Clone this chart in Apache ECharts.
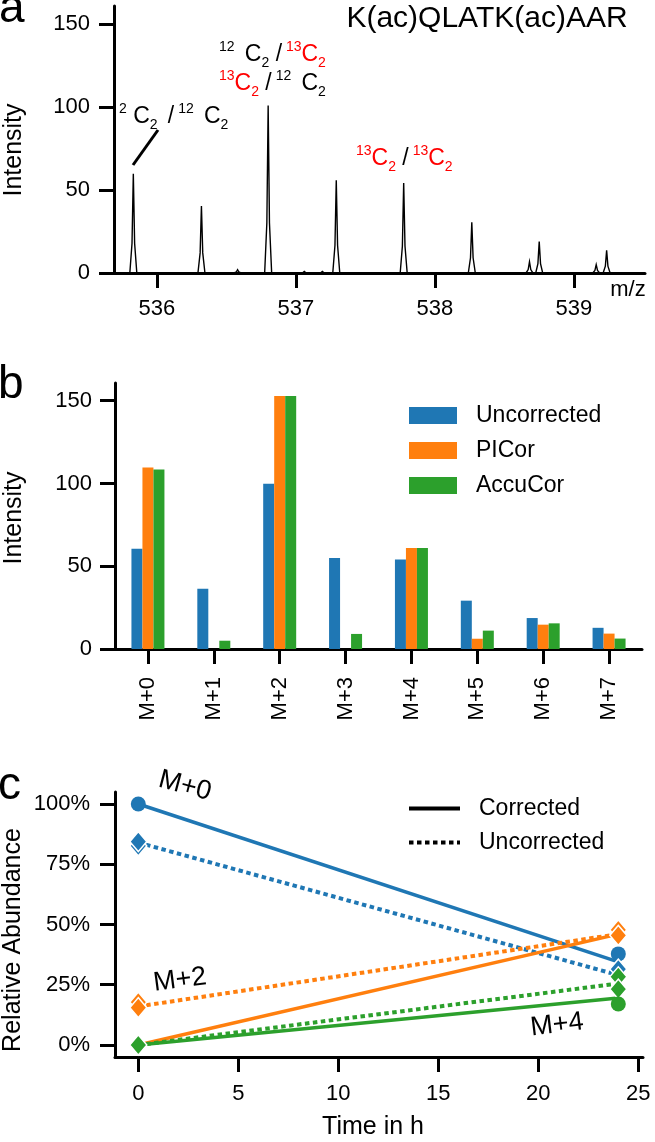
<!DOCTYPE html>
<html><head><meta charset="utf-8">
<script src="https://cdn.jsdelivr.net/npm/echarts@6/dist/echarts.min.js"></script>
<style>html,body{margin:0;padding:0;background:#fff}#c{width:655px;height:1142px}</style>
</head><body><div id="c"></div>
<script>
// ---------- Panel a: mass spectrum (peak centroids) ----------
const peakMz        = [535.83, 536.32, 536.58, 536.80, 537.06, 537.19, 537.29, 537.775, 538.265, 538.68, 538.75, 539.16, 539.235];
const peakIntensity = [59.8,   40.4,   2.0,    100.8,  1.0,    1.0,    55.8,   54.2,    30.5,    6.8,    19.0,   5.0,    13.6];
const mzTicks = [536, 537, 538, 539];
const intensityTicks = [0, 50, 100, 150];

// ---------- Panel b: isotopologue intensities ----------
const isotopologues = ['M+0', 'M+1', 'M+2', 'M+3', 'M+4', 'M+5', 'M+6', 'M+7'];
const uncorrected = [60.6, 36.4, 99.9, 55.0, 54.0, 29.2, 18.7, 12.8];
const picor       = [109.7, 0,   152.8, 0,   61.0, 6.2,  14.7, 9.3];
const accucor     = [108.5, 5.0, 152.8, 9.1, 61.0, 11.1, 15.5, 6.3];

// ---------- Panel c: relative abundance over time ----------
const timeH = [0, 24];
const m0Corrected   = [1.00, 0.345];
const m0Uncorrected = [0.84, 0.29];
const m2Corrected   = [0.00, 0.46];
const m2Uncorrected = [0.16, 0.46];
const m4Corrected   = [0.00, 0.195];
const m4Uncorrected = [0.00, 0.255];
const m0Circles  = [[0, 1.00], [24, 0.378]];
const m0Diamonds = [[0, 0.826], [0, 0.844], [24, 0.315]];
const m2Diamonds = [[0, 0.178], [0, 0.155], [24, 0.478], [24, 0.455]];
const m4Diamonds = [[0, 0.0], [24, 0.283], [24, 0.232]];
const m4Circles  = [[24, 0.17]];
const timeTicks = [0, 5, 10, 15, 20, 25];
const abundanceTicks = [0, 0.25, 0.5, 0.75, 1];

const FONT = "'Liberation Sans', Arial, Helvetica, sans-serif";
const BLUE = '#1f77b4', ORANGE = '#ff7f0e', GREEN = '#2ca02c', RED = '#ff0000';

const chart = echarts.init(document.getElementById('c'), null, {renderer: 'canvas', width: 655, height: 1142});

const axisLine = {show: true, onZero: false, lineStyle: {color: '#000', width: 3}};
function ticks(vals) { const t = {show: true, length: 15, inside: false, lineStyle: {color: '#000', width: 3}}; if (vals) t.customValues = vals; return t; }
function labels(vals, margin, extra) { const l = Object.assign({fontSize: 22, color: '#000', fontFamily: FONT, margin: margin}, extra || {}); if (vals) l.customValues = vals; return l; }

const pair = (xs, ys) => xs.map((x, i) => [x, ys[i]]);
function lineSeries(name, data, color, dotted) {
  return {type: 'line', name: name, xAxisIndex: 2, yAxisIndex: 2, data: data, symbol: 'none', z: 2,
    lineStyle: {color: color, width: dotted ? 4 : 3.5, type: dotted ? [4.5, 3.5] : 'solid', cap: 'butt'}, itemStyle: {color: color}};
}
function markSeries(data, color, symbol) {
  return {type: 'scatter', xAxisIndex: 2, yAxisIndex: 2, data: data, symbol: symbol, z: 4,
    symbolSize: symbol === 'circle' ? 15 : [17, 20],
    itemStyle: {color: color, borderColor: '#fff', borderWidth: symbol === 'circle' ? 0 : 1.5, opacity: 1}};
}

const rich = {
  m:  {fontSize: 23, lineHeight: 30, fill: '#000', fontFamily: FONT, verticalAlign: 'middle'},
  rm: {fontSize: 23, lineHeight: 30, fill: RED, fontFamily: FONT, verticalAlign: 'middle'},
  s:  {fontSize: 14, lineHeight: 10, fill: '#000', fontFamily: FONT, verticalAlign: 'top'},
  rs: {fontSize: 14, lineHeight: 10, fill: RED, fontFamily: FONT, verticalAlign: 'top'},
  b:  {fontSize: 14, lineHeight: 20, fill: '#000', fontFamily: FONT, verticalAlign: 'bottom'},
  rb: {fontSize: 14, lineHeight: 20, fill: RED, fontFamily: FONT, verticalAlign: 'bottom'}
};
function richText(x, y, str) {
  return {type: 'text', x: x, y: y, z: 10, style: {text: str, rich: rich, fontSize: 23, fontFamily: FONT, fill: '#000', align: 'left', verticalAlign: 'top'}};
}
function plainText(x, y, str, size, opts) {
  return Object.assign({type: 'text', x: x, y: y, z: 10, style: Object.assign({text: str, fontSize: size, fontFamily: FONT, fill: '#000', align: 'center', verticalAlign: 'middle'}, (opts && opts.style) || {})}, (opts && opts.el) || {});
}

const option = {
  animation: false,
  backgroundColor: '#fff',
  textStyle: {fontFamily: FONT},
  grid: [
    {left: 114, top: 6, width: 531, height: 267},
    {left: 115, top: 383, width: 527, height: 266},
    {left: 115, top: 792, width: 528, height: 265}
  ],
  xAxis: [
    {type: 'value', gridIndex: 0, min: 535.691, max: 539.511, z: 5, axisLine: axisLine, axisTick: ticks(mzTicks), axisLabel: labels(mzTicks, 25), splitLine: {show: false}},
    {type: 'category', gridIndex: 1, data: isotopologues, axisLine: axisLine, axisTick: Object.assign(ticks(), {alignWithLabel: true}), axisLabel: labels(null, 28, {rotate: 90, interval: 0}), splitLine: {show: false}},
    {type: 'value', gridIndex: 2, min: -1.165, max: 25.235, axisLine: axisLine, axisTick: ticks(timeTicks), axisLabel: labels(timeTicks, 26), splitLine: {show: false}}
  ],
  yAxis: [
    {type: 'value', gridIndex: 0, min: 0, max: 160.8, axisLine: axisLine, axisTick: ticks(intensityTicks), axisLabel: labels(intensityTicks, 24), splitLine: {show: false}},
    {type: 'value', gridIndex: 1, min: 0, max: 160.7, axisLine: axisLine, axisTick: ticks(intensityTicks), axisLabel: labels(intensityTicks, 23), splitLine: {show: false}},
    {type: 'value', gridIndex: 2, min: -0.0498, max: 1.0498, axisLine: axisLine, axisTick: ticks(abundanceTicks), axisLabel: labels(abundanceTicks, 25, {formatter: v => Math.round(v * 100) + '%'}), splitLine: {show: false}}
  ],
  legend: [
    {data: ['Uncorrected', 'PICor', 'AccuCor'], orient: 'vertical', left: 409, top: 404, padding: 0, icon: 'rect',
     itemWidth: 48, itemHeight: 17, itemGap: 12, selectedMode: false,
     textStyle: {fontSize: 23, color: '#000', fontFamily: FONT, padding: [0, 0, 0, 14]}},
    {data: ['Corrected', 'Uncorrected '], orient: 'vertical', left: 407, top: 797, padding: 0,
     itemWidth: 51, itemHeight: 4, itemGap: 11, selectedMode: false,
     itemStyle: {opacity: 0}, lineStyle: {width: 4},
     textStyle: {fontSize: 23, color: '#000', fontFamily: FONT, padding: [0, 0, 0, 14]}}
  ],
  series: [
    {type: 'custom', xAxisIndex: 0, yAxisIndex: 0, z: 3,
     data: pair(peakMz, peakIntensity),
     renderItem: function (params, api) {
       const top = api.coord([api.value(0), api.value(1)]);
       const base = api.coord([api.value(0), 0]);
       const h = base[1] - top[1];
       return {type: 'polygon', shape: {points: [
         [base[0] - 3.5, base[1]], [base[0] - 1.3, base[1] - h * 0.3], [top[0], top[1]],
         [base[0] + 1.3, base[1] - h * 0.3], [base[0] + 3.5, base[1]]]},
         style: {fill: '#fff', stroke: '#000', lineWidth: 1.4}};
     }},
    {type: 'bar', name: 'Uncorrected', xAxisIndex: 1, yAxisIndex: 1, data: uncorrected, barWidth: 11, barGap: '0%', itemStyle: {color: BLUE}},
    {type: 'bar', name: 'PICor', xAxisIndex: 1, yAxisIndex: 1, data: picor, barWidth: 11, barGap: '0%', itemStyle: {color: ORANGE}},
    {type: 'bar', name: 'AccuCor', xAxisIndex: 1, yAxisIndex: 1, data: accucor, barWidth: 11, barGap: '0%', itemStyle: {color: GREEN}},
    lineSeries('M+0 corrected', pair(timeH, m0Corrected), BLUE, false),
    lineSeries('M+0 uncorrected', pair(timeH, m0Uncorrected), BLUE, true),
    lineSeries('M+2 corrected', pair(timeH, m2Corrected), ORANGE, false),
    lineSeries('M+2 uncorrected', pair(timeH, m2Uncorrected), ORANGE, true),
    lineSeries('M+4 corrected', pair(timeH, m4Corrected), GREEN, false),
    lineSeries('M+4 uncorrected', pair(timeH, m4Uncorrected), GREEN, true),
    markSeries(m0Circles, BLUE, 'circle'),
    markSeries(m0Diamonds, BLUE, 'diamond'),
    markSeries(m2Diamonds, ORANGE, 'diamond'),
    markSeries(m4Diamonds, GREEN, 'diamond'),
    markSeries(m4Circles, GREEN, 'circle'),
    {type: 'line', name: 'Corrected', xAxisIndex: 2, yAxisIndex: 2, data: [], symbol: 'none', lineStyle: {color: '#000', width: 4, type: 'solid'}, itemStyle: {color: '#000'}},
    {type: 'line', name: 'Uncorrected ', xAxisIndex: 2, yAxisIndex: 2, data: [], symbol: 'none', lineStyle: {color: '#000', width: 4, type: [4.5, 3.5]}, itemStyle: {color: '#000'}}
  ],
  graphic: [
    // panel letters
    plainText(-1, 9, 'a', 46, {style: {align: 'left'}}),
    plainText(-2, 385, 'b', 46, {style: {align: 'left'}}),
    plainText(-2, 786, 'c', 46, {style: {align: 'left'}}),
    // panel a texts
    plainText(487, 19, 'K(ac)QLATK(ac)AAR', 30),
    plainText(628, 290, 'm/z', 22),
    plainText(14, 150, 'Intensity', 25, {el: {rotation: Math.PI / 2}}),
    richText(219, 40, '{s|12}{m| }{s| }{m|C}{b|2} {m|/}{s| }{rs|13}{rm|C}{rb|2}'),
    richText(219, 69, '{rs|13}{rm|C}{rb|2} {m|/}{s| 12}{m| }{s| }{m|C}{b|2}'),
    richText(119, 101.7, '{s|2} {m|C}{b|2} {s| }{m|/}{s| 12} {s| }{m|C}{b|2}'),
    richText(356, 144, '{rs|13}{rm|C}{rb|2} {m|/}{s| }{rs|13}{rm|C}{rb|2}'),
    {type: 'line', z: 10, shape: {x1: 133, y1: 165, x2: 158, y2: 130}, style: {stroke: '#000', lineWidth: 3}},
    // panel b
    plainText(14, 518, 'Intensity', 25, {el: {rotation: Math.PI / 2}}),
    // panel c
    plainText(13, 940, 'Relative Abundance', 25, {el: {rotation: Math.PI / 2}}),
    plainText(373, 1127, 'Time in h', 25),
    plainText(185, 786, 'M+0', 27, {el: {rotation: -0.26}}),
    plainText(180, 980, 'M+2', 27, {el: {rotation: 0.13}}),
    plainText(557, 1025, 'M+4', 27, {el: {rotation: 0.12}})
  ]
};
chart.setOption(option);
</script>
</body></html>
